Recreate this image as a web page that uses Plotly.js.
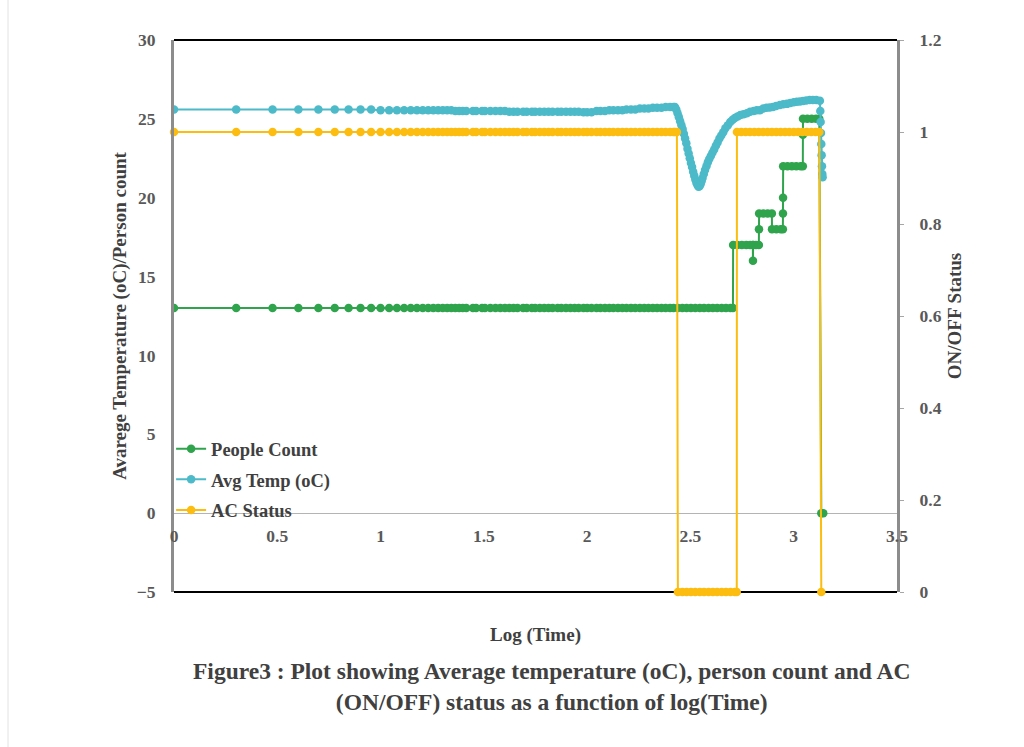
<!DOCTYPE html>
<html>
<head>
<meta charset="utf-8">
<script src="https://cdn.plot.ly/plotly-3.0.1.min.js"></script>
<style>html,body{margin:0;padding:0;background:#fff}#chart{width:1024px;height:747px}</style>
</head>
<body>
<div id="chart"></div>
<script>
// ---- data (Time in seconds; x axis shows log10(Time)) ----
const timeEarly = [1,2,3,4,5,6,7,8,9,10,11,12,13,14,15,16,17,18,19,20,21,22,23,24,25,26,28,29,31,32,34,36,38,40,42,44,46,49,51,54,56,59,62,65,68,72,75,79,83,87,91,96,100,105,111,116,122,128,134,141,148,155,163,171,180,189,198,208,218,229,240,252,262];

const peopleEarly = [13,13,13,13,13,13,13,13,13,13,13,13,13,13,13,13,13,13,13,13,13,13,13,13,13,13,13,13,13,13,13,13,13,13,13,13,13,13,13,13,13,13,13,13,13,13,13,13,13,13,13,13,13,13,13,13,13,13,13,13,13,13,13,13,13,13,13,13,13,13,13,13,13];
const peopleTimeLate = [275,289,303,318,334,351,368,387,406,426,448,470,494,508,509,534,561,589,615,634,635,636,657,678,679,680,713,748,784,785,824,865,886,887,888,889,933,980,1029,1080,1107,1108,1109,1164,1222,1283,1330,1360,1390];
const peopleLate = [13,13,13,13,13,13,13,13,13,13,13,13,13,13,17,17,17,17,17,17,16,17,17,17,18,19,19,19,19,18,18,18,18,19,20,22,22,22,22,22,22,24,25,25,25,25,25,0,0];

const tempEarly = [25.6,25.6,25.6,25.6,25.6,25.6,25.6,25.6,25.6,25.55,25.55,25.55,25.55,25.55,25.55,25.55,25.55,25.55,25.55,25.55,25.55,25.55,25.5,25.5,25.5,25.5,25.5,25.5,25.5,25.5,25.5,25.5,25.5,25.5,25.45,25.45,25.45,25.45,25.45,25.45,25.45,25.45,25.45,25.45,25.45,25.45,25.45,25.45,25.45,25.45,25.45,25.42,25.42,25.42,25.5,25.5,25.5,25.55,25.55,25.55,25.55,25.6,25.6,25.6,25.65,25.65,25.65,25.7,25.7,25.7,25.75,25.75,25.75];
const tempTimeLate = [266,270,274,278,282,286,290,294,298,302,306,310,314,318,322,326,330,334,338,342,346,350,354,358,362,367,372,378,384,390,397,404,412,420,428,437,446,456,467,480,493,506,519,535,552,572,593,615,640,662,686,712,738,765,793,822,857,890,927,963,1000,1035,1072,1110,1150,1195,1238,1285,1339,1345,1350,1355,1360,1365,1370,1375,1380];
const tempLate = [25.75,25.6,25.35,25.1,24.85,24.6,24.35,24.05,23.75,23.45,23.1,22.8,22.5,22.2,21.95,21.65,21.4,21.15,20.95,20.8,20.7,20.72,20.85,21.05,21.25,21.5,21.75,22.0,22.25,22.45,22.65,22.85,23.05,23.3,23.5,23.75,23.95,24.15,24.4,24.6,24.8,24.95,25.05,25.15,25.25,25.3,25.35,25.45,25.5,25.55,25.55,25.65,25.7,25.72,25.75,25.82,25.88,25.92,25.95,26.0,26.05,26.08,26.1,26.13,26.16,26.2,26.2,26.2,26.15,25.5,24.8,24.1,23.4,22.7,22.0,21.5,21.3];

const acEarly = [1,1,1,1,1,1,1,1,1,1,1,1,1,1,1,1,1,1,1,1,1,1,1,1,1,1,1,1,1,1,1,1,1,1,1,1,1,1,1,1,1,1,1,1,1,1,1,1,1,1,1,1,1,1,1,1,1,1,1,1,1,1,1,1,1,1,1,1,1,1,1,1,1];
const acTimeLate = [266,272,275,289,303,318,334,351,368,387,406,426,448,470,494,518,530,531,557,585,614,645,677,711,747,784,823,864,908,953,1001,1051,1103,1158,1216,1277,1330,1360];
const acLate = [1,1,0,0,0,0,0,0,0,0,0,0,0,0,0,0,0,1,1,1,1,1,1,1,1,1,1,1,1,1,1,1,1,1,1,1,1,0];

const seriesNames = ['People Count', 'Avg Temp (oC)', 'AC Status'];
const logTimeTicks = [0, 0.5, 1, 1.5, 2, 2.5, 3, 3.5];
const logTimeTickText = ['0', '0.5', '1', '1.5', '2', '2.5', '3', '3.5'];

// ---- styling ----
const serif = 'Liberation Serif, Times New Roman, serif';
const green = '#2fa44d';
const cyan = '#4cbac8';
const gold = '#fdbd10';

function series(name, t, v, color, yaxis, group, clip) {
  return {
    type: 'scatter', mode: 'lines+markers', name: name,
    x: t, y: v, yaxis: yaxis, legendgroup: group,
    line: {color: color, width: 2},
    marker: {color: color, size: 8.5},
    cliponaxis: clip
  };
}

const traces = [
  series(seriesNames[0], timeEarly.concat(peopleTimeLate), peopleEarly.concat(peopleLate), green, 'y', 'g1', true),
  series(seriesNames[1], timeEarly.concat(tempTimeLate), tempEarly.concat(tempLate), cyan, 'y', 'g2', true),
  series(seriesNames[2], timeEarly.concat(acTimeLate), acEarly.concat(acLate), gold, 'y2', 'g3', false)
];

const tickFont = {family: serif, size: 17.5, color: '#595959', weight: 'bold'};
const titleFont = {family: serif, size: 19, color: '#404040', weight: 'bold'};

const layout = {
  width: 1024, height: 747,
  margin: {l: 174, r: 127, t: 40, b: 155},
  paper_bgcolor: '#ffffff', plot_bgcolor: '#ffffff',
  showlegend: true,
  legend: {
    x: -0.004, xanchor: 'left', y: 0.293, yanchor: 'top',
    bgcolor: 'rgba(0,0,0,0)', itemwidth: 30,
    traceorder: 'grouped', tracegroupgap: 3.5,
    font: {family: serif, size: 18.5, color: '#404040', weight: 'bold'}
  },
  xaxis: {
    type: 'log', range: [0, 3.5],
    anchor: 'free', position: 5 / 35,
    showgrid: false, zeroline: false, showline: false,
    tickmode: 'array',
    tickvals: logTimeTicks.map(v => Math.pow(10, v)),
    ticktext: logTimeTickText,
    ticks: '', ticklabelstandoff: 10,
    tickfont: tickFont,
    title: {text: 'Log (Time)', font: titleFont, standoff: 83},
    automargin: true
  },
  yaxis: {
    range: [-5, 30], dtick: 5, tick0: 0,
    showgrid: false,
    zeroline: true, zerolinecolor: '#b4b4b4', zerolinewidth: 1,
    showline: true, linecolor: '#8c8c8c', linewidth: 3,
    ticks: '', ticklabelstandoff: 12,
    tickfont: tickFont,
    title: {text: 'Avarege Temperature (oC)/Person count', font: titleFont, standoff: 6},
    automargin: true
  },
  yaxis2: {
    range: [0, 1.2], dtick: 0.2, tick0: 0,
    overlaying: 'y', side: 'right',
    showgrid: false, zeroline: false,
    showline: true, linecolor: '#8c8c8c', linewidth: 3,
    ticks: 'outside', ticklen: 4, tickcolor: '#a6a6a6', ticklabelstandoff: 12,
    tickfont: tickFont,
    title: {text: 'ON/OFF Status', font: titleFont}
  },
  shapes: [
    {type: 'line', xref: 'paper', yref: 'paper', x0: 0, x1: 1, y0: 0, y1: 0, layer: 'below', line: {color: '#000000', width: 2}},
    {type: 'line', xref: 'paper', yref: 'paper', x0: 0, x1: 1, y0: 1, y1: 1, layer: 'below', line: {color: '#000000', width: 2}},
    {type: 'line', xref: 'paper', yref: 'paper', x0: -166 / 723, x1: -166 / 723, y0: -155 / 552, y1: 592 / 552, layer: 'below', line: {color: '#e2e2e2', width: 1}}
  ],
  annotations: [{
    xref: 'paper', yref: 'paper', x: 0.5228, y: -0.1703,
    xanchor: 'center', yanchor: 'middle', showarrow: false,
    text: 'Figure3 : Plot showing Average temperature (oC), person count and AC<br>(ON/OFF) status as a function of log(Time)',
    font: {family: serif, size: 23.5, color: '#404040', weight: 'bold'}
  }]
};

Plotly.newPlot('chart', traces, layout, {displayModeBar: false, staticPlot: true});
</script>
</body>
</html>
